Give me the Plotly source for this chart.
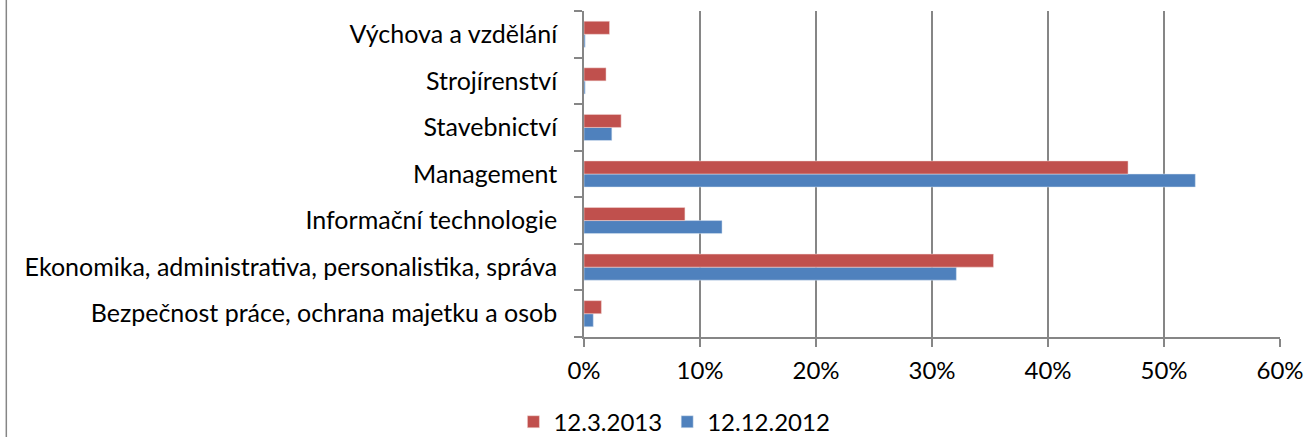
import plotly.graph_objects as go

categories = [
    "Bezpečnost práce, ochrana majetku a osob",
    "Ekonomika, administrativa, personalistika, správa",
    "Informační technologie",
    "Management",
    "Stavebnictví",
    "Strojírenství",
    "Výchova a vzdělání",
]
values_2013 = [0.015, 0.353, 0.087, 0.469, 0.032, 0.019, 0.022]
values_2012 = [0.008, 0.321, 0.119, 0.527, 0.024, 0.001, 0.001]
x_ticks = [0, 0.1, 0.2, 0.3, 0.4, 0.5, 0.6]

FONT = "Lato, Carlito, Calibri, sans-serif"
GRID = "#868686"

trace_2012 = go.Bar(
    y=categories,
    x=values_2012,
    orientation="h",
    name="12.12.2012",
    marker=dict(color="#4F81BD", line=dict(color="#DCE6F2", width=0.5)),
)
trace_2013 = go.Bar(
    y=categories,
    x=values_2013,
    orientation="h",
    name="12.3.2013",
    marker=dict(color="#C0504D", line=dict(color="#F2DCDB", width=0.5)),
)

layout = go.Layout(
    width=1307,
    height=437,
    margin=dict(l=584, r=27, t=11, b=100),
    paper_bgcolor="white",
    plot_bgcolor="white",
    barmode="group",
    bargap=0.44,
    bargroupgap=0,
    font=dict(family=FONT, size=24, color="black"),
    xaxis=dict(
        range=[0, 0.6],
        tickvals=x_ticks,
        tickformat=".0%",
        automargin=False,
        showgrid=True,
        gridcolor=GRID,
        gridwidth=1.5,
        showline=True,
        linecolor=GRID,
        linewidth=1.5,
        ticks="outside",
        ticklen=8,
        tickcolor=GRID,
        tickwidth=1.5,
        ticklabelstandoff=3,
        zeroline=False,
        fixedrange=True,
    ),
    yaxis=dict(
        type="category",
        automargin=False,
        showgrid=False,
        showline=True,
        linecolor=GRID,
        linewidth=1.5,
        ticks="outside",
        tickson="boundaries",
        ticklen=8,
        tickcolor=GRID,
        tickwidth=1.5,
        ticklabelstandoff=20,
        tickfont=dict(size=25),
        fixedrange=True,
    ),
    legend=dict(
        orientation="h",
        traceorder="reversed",
        xref="container",
        x=0.516,
        xanchor="center",
        yref="container",
        y=0.034,
        yanchor="middle",
        font=dict(family=FONT, size=24),
    ),
    showlegend=True,
    shapes=[
        dict(type="line", xref="paper", yref="paper",
             x0=-0.830, x1=-0.830, y0=-1, y1=2,
             line=dict(color=GRID, width=1.5)),
    ],
)

fig = go.Figure(data=[trace_2012, trace_2013], layout=layout)
fig.write_html(
    "out.html",
    config={"displayModeBar": False},
    post_script="document.body.style.margin = '0';",
)
